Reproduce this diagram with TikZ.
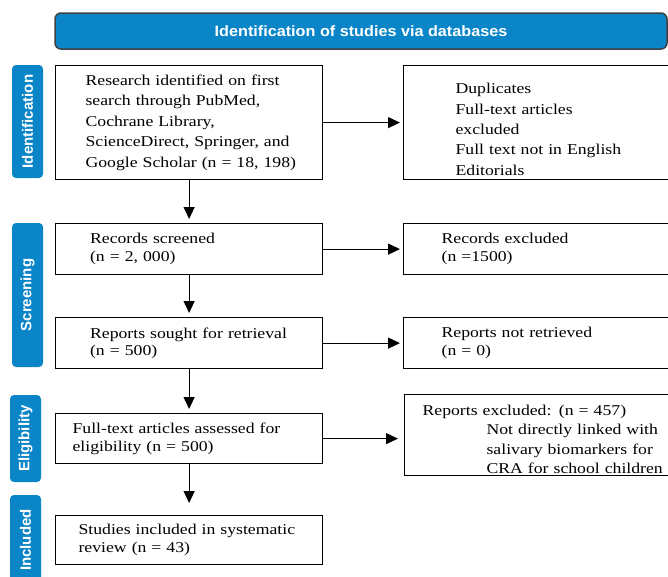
\documentclass[tikz,border=0pt]{standalone}
\usepackage{fontspec}
\setmainfont{Liberation Serif}[FakeStretch=1.18]
\newfontfamily\headfont{Liberation Sans}[FakeStretch=1.08]
\newfontfamily\sidefont{Liberation Sans}
\usetikzlibrary{arrows.meta}
\definecolor{prismablue}{HTML}{0A85C7}
\tikzstyle{box} = [draw=black, line width=1.2pt, inner sep=0pt, align=left, anchor=north west, font=\fontsize{15}{17.5}\selectfont]
\tikzstyle{phase} = [fill=prismablue, rounded corners=4pt, rotate=90, minimum height=31pt, inner sep=0pt, text=white, font=\sidefont\bfseries\fontsize{15}{18}\selectfont]
\tikzstyle{arr} = [line width=1.2pt, -{Triangle[length=12pt,width=11pt]}, shorten >=4pt]

\begin{document}
\begin{tikzpicture}[x=1pt, y=-1pt]%
	\useasboundingbox (0,0) rectangle (668,576);
	\clip (0,0) rectangle (668,576);
	\node (head) at (361,31) [fill=prismablue, draw=black!75, line width=1.5pt, rounded corners=6pt, minimum width=612pt, minimum height=36pt, text=white, font=\headfont\bfseries\fontsize{15}{18}\selectfont] {Identification of studies via databases};
	% phases
	\node (pident) at (27.5,121.5) [phase, minimum width=113pt] {Identification};
	\node (pscreen) at (27.5,295) [phase, minimum width=144pt] {Screening};
	\node (pelig) at (25.5,438.5) [phase, minimum width=87pt] {Eligibility};
	\node (pincl) at (25.5,540) [phase, minimum width=90pt] {Included};
	% left column
	\node (ident) at (55,65) [box, minimum width=267pt, minimum height=114pt, text width=207pt, font=\fontsize{15}{20.4}\selectfont]
		{Research identified on first\\ search through PubMed,\\ Cochrane Library,\\ ScienceDirect, Springer, and\\ \mbox{Google Scholar (n = 18, 198)}};
	\node (screen) at (55,223) [box, minimum width=267pt, minimum height=51pt, text width=198pt]
		{Records screened\\ (n = 2, 000)};
	\node (sought) at (55,317) [box, minimum width=267pt, minimum height=51pt, text width=198pt]
		{Reports sought for retrieval\\ (n = 500)};
	\node (assess) at (55,413) [box, minimum width=267pt, minimum height=50pt, text width=233pt]
		{Full-text articles assessed for\\ eligibility (n = 500)};
	\node (incl) at (55,515) [box, minimum width=267pt, minimum height=49pt, text width=221pt]
		{Studies included in systematic\\ review (n = 43)};
	% right column
	\node (dupl) at (403,65) [box, minimum width=287pt, minimum height=114pt, text width=183pt, font=\fontsize{15}{20.3}\selectfont]
		{\rule{0pt}{24pt}Duplicates\\ Full-text articles\\ excluded\\ Full text not in English\\ Editorials};
	\node (recexcl) at (403,223) [box, minimum width=287pt, minimum height=51pt, text width=211pt]
		{Records excluded\\ (n =1500)};
	\node (notret) at (403,317) [box, minimum width=287pt, minimum height=51pt, text width=211pt]
		{Reports not retrieved\\ (n = 0)};
	\node (repexcl) at (404,394) [box, minimum width=286pt, minimum height=81pt, text width=250pt, font=\fontsize{15}{19.5}\selectfont]
		{\rule{0pt}{19pt}Reports excluded: (n = 457)\\ \hspace*{64pt}Not directly linked with\\ \hspace*{64pt}salivary biomarkers for\\ \hspace*{64pt}CRA for school children};
	% arrows
	\draw[arr, shorten >=3pt] (ident) -- (dupl);
	\draw[arr] (ident) -- (screen);
	\draw[arr, shorten >=3pt] (screen) -- (recexcl);
	\draw[arr] (screen) -- (sought);
	\draw[arr, shorten >=3pt] (sought) -- (notret);
	\draw[arr] (sought) -- (assess);
	\draw[arr, shorten >=6pt] (assess.east) -- (assess.east -| repexcl.west);
	\draw[arr, shorten >=12pt] (assess) -- (incl);
\end{tikzpicture}
\end{document}
